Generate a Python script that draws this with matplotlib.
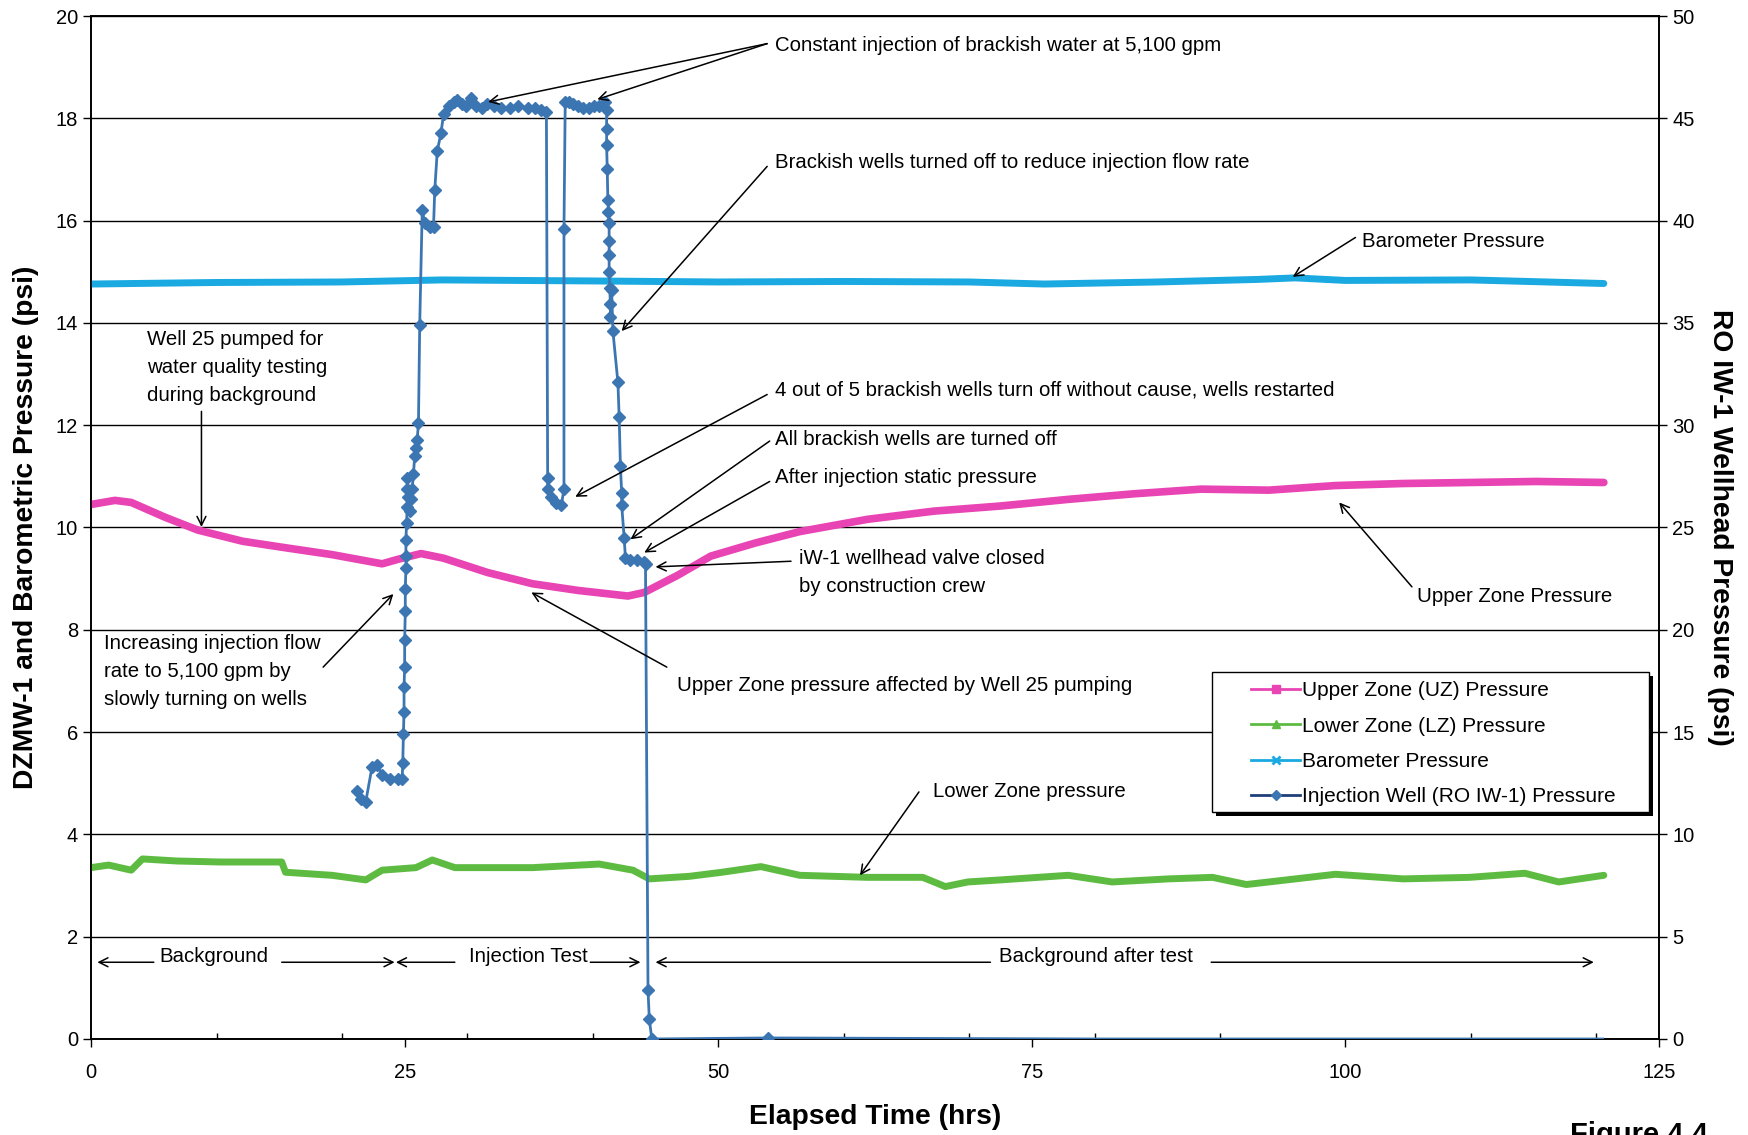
import matplotlib
matplotlib.use("Agg")
import matplotlib.pyplot as plt
from matplotlib.lines import Line2D
from matplotlib.patches import Rectangle
from matplotlib.transforms import IdentityTransform
from matplotlib.ticker import MultipleLocator

plt.rcParams['font.family'] = ['Liberation Sans', 'DejaVu Sans']

# ---------------- data ----------------
uz_t = [0, 1.9, 3.2, 5.9, 8.5, 12.1, 15.6, 19.2, 23.2, 24.5, 26.3, 28.1, 31.6, 35.2, 38.8,
        42.8, 44.1, 46.8, 49.4, 53.0, 56.5, 61.9, 67.2, 72.5, 77.9, 83.2, 88.5, 93.9, 99.2,
        104.6, 109.9, 115.2, 120.6]
uz_p = [10.45, 10.53, 10.49, 10.2, 9.95, 9.73, 9.6, 9.47, 9.29, 9.38, 9.49, 9.40, 9.12, 8.9,
        8.77, 8.66, 8.73, 9.07, 9.44, 9.7, 9.92, 10.16, 10.32, 10.42, 10.55, 10.66, 10.75,
        10.73, 10.82, 10.86, 10.88, 10.9, 10.88]

lz_t = [0, 1.4, 3.2, 4.1, 6.8, 10.3, 15.2, 15.5, 19.2, 21.9, 23.2, 25.9, 27.2, 29.0, 35.2,
        40.5, 43.2, 44.5, 47.7, 50.3, 53.4, 56.5, 61.9, 66.3, 68.1, 69.9, 72.5, 77.9, 81.4,
        85.9, 89.4, 92.1, 93.9, 99.2, 104.6, 109.9, 114.3, 117.0, 120.6]
lz_p = [3.35, 3.4, 3.3, 3.52, 3.48, 3.46, 3.46, 3.26, 3.2, 3.11, 3.3, 3.35, 3.5, 3.35, 3.35,
        3.42, 3.3, 3.13, 3.18, 3.26, 3.37, 3.2, 3.16, 3.16, 2.98, 3.07, 3.11, 3.2, 3.07,
        3.13, 3.16, 3.02, 3.07, 3.22, 3.13, 3.16, 3.24, 3.07, 3.2]

baro_t = [0, 10, 20, 28, 40, 50, 60, 70, 76, 85, 93, 96, 100, 110, 120.6]
baro_p = [14.76, 14.79, 14.8, 14.84, 14.82, 14.8, 14.81, 14.8, 14.76, 14.8, 14.85, 14.88,
          14.83, 14.84, 14.77]

iw_t = [21.2, 21.5, 21.9, 22.4, 22.8, 23.2, 23.8, 24.5, 24.8, 24.85, 24.9, 24.95, 24.95, 25.0,
        25.0, 25.05, 25.05, 25.1, 25.1, 25.1, 25.15, 25.2, 25.2, 25.2, 25.3, 25.4, 25.5, 25.6,
        25.7, 25.8, 25.9, 26.0, 26.1, 26.2, 26.4, 26.6, 27.0, 27.3, 27.4, 27.6, 27.9, 28.1,
        28.5, 28.9, 29.2, 29.6, 29.9, 30.3, 30.7, 31.2, 31.6, 32.1, 32.7, 33.4, 34.0, 34.8,
        35.4, 35.9, 36.3, 36.4, 36.4, 36.7, 37.1, 37.5, 37.7, 37.7, 37.8, 38.1, 38.4, 38.8,
        39.2, 39.7, 40.1, 40.5, 41.0, 41.1, 41.1, 41.1, 41.15, 41.2, 41.25, 41.3, 41.3, 41.3,
        41.3, 41.35, 41.4, 41.4, 41.5, 41.6, 42.0, 42.1, 42.2, 42.3, 42.3, 42.5, 42.6, 43.0,
        43.5, 44.1, 44.2, 44.4, 44.5, 44.7, 54.0, 80.0, 120.5]
iw_p = [12.1, 11.75, 11.6, 13.3, 13.4, 12.9, 12.7, 12.7, 12.7, 13.5, 14.9, 16.0, 17.2, 18.2,
        19.5, 20.9, 22.0, 23.0, 23.6, 24.4, 25.2, 26.0, 26.9, 27.4, 26.5, 25.8, 26.4, 26.9,
        27.6, 28.5, 28.9, 29.3, 30.1, 34.9, 40.5, 39.9, 39.7, 39.7, 41.5, 43.4, 44.3, 45.2,
        45.6, 45.8, 45.9, 45.7, 45.6, 46.0, 45.6, 45.5, 45.7, 45.6, 45.5, 45.5, 45.6, 45.5,
        45.5, 45.4, 45.3, 27.4, 26.9, 26.5, 26.2, 26.1, 26.9, 39.6, 45.8, 45.8, 45.7, 45.6,
        45.5, 45.5, 45.6, 45.6, 45.8, 45.4, 44.5, 43.7, 42.5, 41.0, 40.4, 39.9, 39.0, 38.3,
        37.5, 36.7, 35.9, 35.3, 36.6, 34.6, 32.1, 30.4, 28.0, 26.7, 26.1, 24.5, 23.5, 23.4,
        23.4, 23.3, 23.2, 2.4, 1.0, 0.0, 0.05, 0.0, 0.0]

x_ticks = [0, 25, 50, 75, 100, 125]
left_ticks = [0, 2, 4, 6, 8, 10, 12, 14, 16, 18, 20]
right_ticks = [0, 5, 10, 15, 20, 25, 30, 35, 40, 45, 50]

series_names = ["Upper Zone (UZ) Pressure", "Lower Zone (LZ) Pressure",
                "Barometer Pressure", "Injection Well (RO IW-1) Pressure"]

C_UZ = "#E844B4"
C_LZ = "#5EBB42"
C_BA = "#1AA9E1"
C_IW = "#3C76B2"

# ---------------- figure ----------------
fig = plt.figure(figsize=(17.48, 11.35), dpi=100)
ax = fig.add_axes([0.0521, 0.0846, 0.897, 0.9013])
ax2 = ax.twinx()

ax.set_xlim(0, 125)
ax.set_ylim(0, 20)
ax2.set_ylim(0, 50)

ax.set_xticks(x_ticks)
ax.xaxis.set_minor_locator(MultipleLocator(10))
ax.set_yticks(left_ticks)
ax2.set_yticks(right_ticks)

ax.yaxis.grid(True, color="black", lw=1.0)
ax.set_axisbelow(True)

TFS = 14.5
ax.tick_params(axis='both', which='major', labelsize=TFS, direction='out', length=6,
               width=1, color='black')
ax.tick_params(axis='x', which='minor', direction='in', length=4, width=1)
ax.tick_params(axis='x', which='major', pad=11)
ax2.tick_params(axis='y', labelsize=TFS, direction='out', length=6, width=1)

for sp in list(ax.spines.values()) + list(ax2.spines.values()):
    sp.set_color("black")
    sp.set_linewidth(1.2)

ax.plot(uz_t, uz_p, color=C_UZ, lw=5.5, solid_capstyle='round', zorder=3)
ax.plot(lz_t, lz_p, color=C_LZ, lw=5, solid_capstyle='round', zorder=3)
ax.plot(baro_t, baro_p, color=C_BA, lw=5, solid_capstyle='round', zorder=3)
ax2.plot(iw_t, iw_p, color=C_IW, lw=2, marker='D', markersize=6,
         markevery=list(range(len(iw_t) - 2)), zorder=4, clip_on=True)

LFS = 20.3
ax.set_xlabel("Elapsed Time (hrs)", fontsize=LFS, fontweight='bold', labelpad=16)
ax.set_ylabel("DZMW-1 and Barometric Pressure (psi)", fontsize=LFS, fontweight='bold',
              labelpad=12)
ax2.set_ylabel("RO IW-1 Wellhead Pressure (psi)", fontsize=LFS, fontweight='bold',
               rotation=-90, labelpad=28)

# ---------------- annotations (left-axis data coords) ----------------
T = ax.transData
FS = 14.7
AP = dict(arrowstyle='->', color='black', lw=1.1, mutation_scale=16, shrinkA=0, shrinkB=0)


def note(text, xy_text, heads, tail=None, ha='left', va='center'):
    ax2.text(xy_text[0], xy_text[1], text, transform=T, fontsize=FS, ha=ha, va=va,
             zorder=6, linespacing=1.6)
    if tail is None:
        return
    for h in heads:
        ax2.annotate('', xy=h, xytext=tail, xycoords=T, textcoords=T,
                     arrowprops=AP, zorder=6)


note("Constant injection of brackish water at 5,100 gpm", (54.5, 19.43),
     [(31.65, 18.32), (40.36, 18.37)], tail=(53.9, 19.46))
note("Brackish wells turned off to reduce injection flow rate", (54.5, 17.13),
     [(42.3, 13.84)], tail=(53.9, 17.06))
note("Barometer Pressure", (101.3, 15.6), [(95.8, 14.9)], tail=(100.8, 15.67))
note("Well 25 pumped for\nwater quality testing\nduring background", (4.45, 13.87),
     [(8.8, 10.01)], tail=(8.8, 12.27), va='top')
note("4 out of 5 brackish wells turn off without cause, wells restarted", (54.5, 12.69),
     [(38.6, 10.6)], tail=(53.9, 12.6))
note("All brackish wells are turned off", (54.5, 11.73), [(43.0, 9.77)], tail=(54.1, 11.69))
note("After injection static pressure", (54.5, 10.97), [(44.1, 9.51)], tail=(54.1, 10.9))
note("iW-1 wellhead valve closed\nby construction crew", (56.4, 9.57),
     [(45.0, 9.23)], tail=(55.8, 9.34), va='top')
note("Upper Zone Pressure", (105.7, 8.66), [(99.5, 10.49)], tail=(105.3, 8.84))
note("Increasing injection flow\nrate to 5,100 gpm by\nslowly turning on wells", (1.0, 7.92),
     [(24.1, 8.7)], tail=(18.5, 7.27), va='top')
note("Upper Zone pressure affected by Well 25 pumping", (46.7, 6.92),
     [(35.1, 8.73)], tail=(45.9, 7.27))
note("Lower Zone pressure", (67.1, 4.83), [(61.3, 3.2)], tail=(66.0, 4.83))

# period arrows
yb = 1.5
note("Background", (9.8, 1.62), [], ha='center')
note("Injection Test", (34.9, 1.62), [], ha='center')
note("Background after test", (80.1, 1.62), [], ha='center')
for a, b in [(5.0, 0.5), (15.2, 24.2), (29.0, 24.3), (39.8, 43.8), (71.7, 45.0),
             (89.3, 119.8)]:
    ax2.annotate('', xy=(b, yb), xytext=(a, yb), xycoords=T, textcoords=T,
                 arrowprops=AP, zorder=6)

# ---------------- legend ----------------
handles = [
    Line2D([], [], color=C_UZ, lw=2, marker='s', markersize=6),
    Line2D([], [], color=C_LZ, lw=2, marker='^', markersize=6),
    Line2D([], [], color=C_BA, lw=2, marker='x', markersize=6, markeredgewidth=2),
    Line2D([], [], color="#1F3F7A", lw=2, marker='D', markersize=5,
           markerfacecolor=C_IW, markeredgecolor=C_IW),
]
leg = ax2.legend(handles, series_names, loc='upper right', bbox_to_anchor=(0.9785, 0.3588),
                 borderaxespad=0, fontsize=15, frameon=False, handlelength=2.35,
                 labelspacing=0.78, borderpad=0.45, handletextpad=0.1)
leg.set_zorder(10)

# legend frame with extra margins and a solid black drop shadow
fig.canvas.draw()
bb = leg.get_window_extent()
pad_l, pad_r, pad_t, pad_b = 30, 24, 0, -3
x0, y0 = bb.x0 - pad_l, bb.y0 - pad_b
w, h = bb.width + pad_l + pad_r, bb.height + pad_t + pad_b
shadow = Rectangle((x0 + 4, y0 - 4), w, h, transform=IdentityTransform(),
                   facecolor='black', edgecolor='none', zorder=8)
frame = Rectangle((x0, y0), w, h, transform=IdentityTransform(),
                  facecolor='white', edgecolor='black', lw=1.0, zorder=9)
for p in (shadow, frame):
    p.set_clip_on(False)
    ax2.add_artist(p)

fig.text(0.898, 1 - 1121 / 1135, "Figure 4.4", fontsize=21, fontweight='bold', va='top')

fig.savefig("out.png", dpi=100)
